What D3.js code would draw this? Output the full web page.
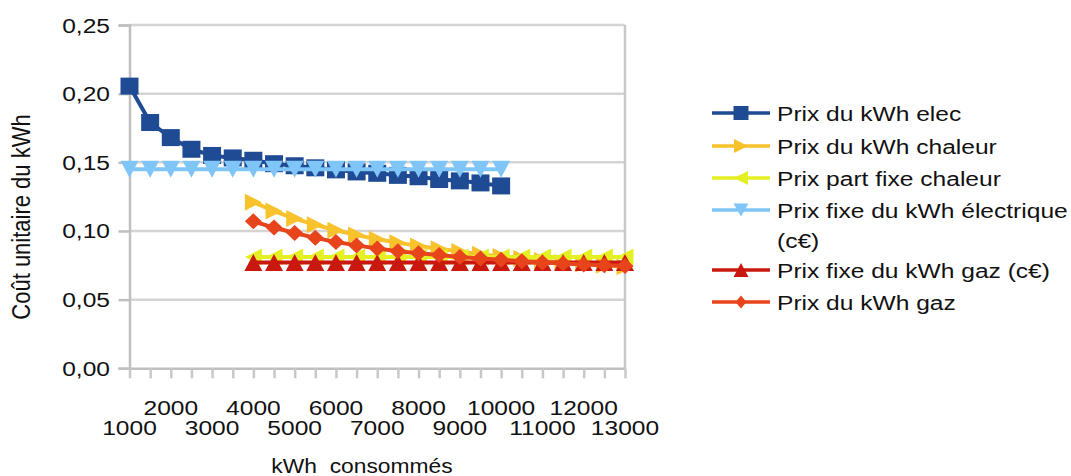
<!DOCTYPE html>
<html>
<head>
<meta charset="utf-8">
<script src="https://cdn.jsdelivr.net/npm/d3@7"></script>
<style>
  body { margin: 0; background: #fff; }
  svg { display: block; background: #fff; }
  text { font-family: "Liberation Sans", Arial, Helvetica, sans-serif; fill: #111; }
</style>
</head>
<body>
<svg id="chart" width="1071" height="476"></svg>
<script>
// kWh consumed (category axis, one point every 500 kWh)
const kwh = [1000, 1500, 2000, 2500, 3000, 3500, 4000, 4500, 5000, 5500, 6000, 6500,
             7000, 7500, 8000, 8500, 9000, 9500, 10000, 10500, 11000, 11500, 12000, 12500, 13000];
const kwhElec = kwh.slice(0, 19);   // 1000 .. 10000
const kwhHeat = kwh.slice(6);       // 4000 .. 13000

// Unit cost (€/kWh)
const prixElec = [0.2055, 0.179, 0.168, 0.1595, 0.155, 0.1532, 0.1515, 0.149, 0.1475, 0.146,
                  0.1445, 0.143, 0.142, 0.1405, 0.1395, 0.1375, 0.1365, 0.135, 0.1328];
const prixFixeElec = [0.145, 0.145, 0.145, 0.145, 0.145, 0.145, 0.145, 0.145, 0.145, 0.145,
                      0.145, 0.145, 0.145, 0.145, 0.145, 0.145, 0.145, 0.145, 0.145];
const prixChaleur = [0.121, 0.1145, 0.109, 0.1045, 0.1005, 0.097, 0.094, 0.0915, 0.089, 0.087,
                     0.085, 0.083, 0.0815, 0.080, 0.0785, 0.077, 0.076, 0.075, 0.074];
const prixPartFixeChaleur = [0.081, 0.081, 0.081, 0.081, 0.081, 0.081, 0.081, 0.081, 0.081, 0.081,
                             0.081, 0.081, 0.081, 0.081, 0.081, 0.081, 0.081, 0.081, 0.081];
const prixFixeGaz = [0.077, 0.077, 0.077, 0.077, 0.077, 0.077, 0.077, 0.077, 0.077, 0.077,
                     0.077, 0.077, 0.077, 0.077, 0.077, 0.077, 0.077, 0.077, 0.077];
const prixGaz = [0.107, 0.1025, 0.0985, 0.095, 0.092, 0.0895, 0.0872, 0.0853, 0.0838, 0.0825,
                 0.081, 0.080, 0.079, 0.078, 0.077, 0.0763, 0.0756, 0.075, 0.0745];

// Axis labels
const yTicks = [0, 0.05, 0.10, 0.15, 0.20, 0.25];
const yTickLabels = ["0,00", "0,05", "0,10", "0,15", "0,20", "0,25"];
const xLabelsUpper = [2000, 4000, 6000, 8000, 10000, 12000];
const xLabelsLower = [1000, 3000, 5000, 7000, 9000, 11000, 13000];

const seriesNames = [
  "Prix du kWh elec",
  "Prix du kWh chaleur",
  "Prix part fixe chaleur",
  "Prix fixe du kWh électrique (c€)",
  "Prix fixe du kWh gaz (c€)",
  "Prix du kWh gaz"
];

const series = [
  { name: seriesNames[0], xs: kwhElec, ys: prixElec, color: "#1f4b94", shape: "square" },
  { name: seriesNames[1], xs: kwhHeat, ys: prixChaleur, color: "#f7c22c", shape: "right" },
  { name: seriesNames[2], xs: kwhHeat, ys: prixPartFixeChaleur, color: "#e4ef24", shape: "left" },
  { name: seriesNames[3], xs: kwhElec, ys: prixFixeElec, color: "#7fc5f8", shape: "down" },
  { name: seriesNames[4], xs: kwhHeat, ys: prixFixeGaz, color: "#c9190f", shape: "up" },
  { name: seriesNames[5], xs: kwhHeat, ys: prixGaz, color: "#e7441c", shape: "diamond" }
];

const svg = d3.select("#chart");
const SX = 1.17; // horizontal stretch of the lettering

const x = d3.scaleLinear().domain([1000, 13000]).range([129.5, 625]);
const y = d3.scaleLinear().domain([0, 0.25]).range([368.3, 25]);

function shapePath(shape, w, h) {
  const a = w / 2, b = h / 2;
  switch (shape) {
    case "square":  return `M${-a},${-b}H${a}V${b}H${-a}Z`;
    case "right":   return `M${-a},${-b}L${a},0L${-a},${b}Z`;
    case "left":    return `M${a},${-b}L${-a},0L${a},${b}Z`;
    case "down":    return `M${-a},${-b}L${a},${-b}L0,${b}Z`;
    case "up":      return `M${-a},${b}L${a},${b}L0,${-b}Z`;
    case "diamond": return `M0,${-b}L${a},0L0,${b}L${-a},0Z`;
  }
}
const markerSize = { square: [18, 17], right: [17, 17], left: [17, 17], down: [18, 17], up: [18, 17], diamond: [17, 16] };
const legendSize = { square: [15, 14], right: [14, 14], left: [14, 14], down: [15, 13], up: [15, 14], diamond: [11, 13] };

function label(g, tx, ty, str, size, anchor) {
  return g.append("text")
    .attr("transform", `translate(${tx},${ty}) scale(${SX},1)`)
    .attr("text-anchor", anchor || "start")
    .style("font-size", size + "px")
    .text(str);
}

// Gridlines
const grid = svg.append("g");
grid.selectAll("line").data(yTicks.slice(1)).join("line")
  .attr("x1", x(1000)).attr("x2", x(13000))
  .attr("y1", d => y(d)).attr("y2", d => y(d))
  .attr("stroke", "#d6d4d2").attr("stroke-width", 2.5);

// Right border of the plot
svg.append("line")
  .attr("x1", x(13000)).attr("x2", x(13000)).attr("y1", y(0.25)).attr("y2", y(0))
  .attr("stroke", "#c8c8c8").attr("stroke-width", 2.5);

// Y axis
const yAxis = d3.axisLeft(y).tickValues(yTicks).tickSize(11).tickFormat("");
const gy = svg.append("g").attr("transform", `translate(${x(1000)},0)`).call(yAxis);
gy.selectAll("path.domain").attr("stroke", "#c0c0c0").attr("stroke-width", 2.5);
gy.selectAll(".tick line").attr("stroke", "#c0c0c0").attr("stroke-width", 2.5);
yTicks.forEach((v, i) => label(svg, 110, y(v) + 7.5, yTickLabels[i], 21, "end"));

// X axis
const xAxis = d3.axisBottom(x).tickValues(kwh).tickSize(10).tickFormat("").tickSizeOuter(0);
const gx = svg.append("g").attr("transform", `translate(0,${y(0)})`).call(xAxis);
gx.selectAll("path.domain").attr("stroke", "#c0c0c0").attr("stroke-width", 2.5);
gx.selectAll(".tick line").attr("stroke", "#c8c8c8").attr("stroke-width", 2.5);
xLabelsUpper.forEach(v => label(svg, x(v), 415, String(v), 21, "middle"));
xLabelsLower.forEach(v => label(svg, x(v), 435, String(v), 21, "middle"));

// Axis titles
svg.append("text")
  .attr("transform", `translate(30,217) scale(${SX},1) rotate(-90)`)
  .attr("text-anchor", "middle")
  .style("font-size", "22px")
  .text("Coût unitaire du kWh");
label(svg, 362, 473, "kWh  consommés", 19.5, "middle").style("white-space", "pre");

// Series: line first, then its markers
const lineGen = d3.line().x(d => x(d[0])).y(d => y(d[1]));
series.forEach(s => {
  const pts = s.xs.map((k, i) => [k, s.ys[i]]);
  const g = svg.append("g");
  g.append("path").datum(pts)
    .attr("d", lineGen).attr("fill", "none")
    .attr("stroke", s.color).attr("stroke-width", 4).attr("stroke-linejoin", "round");
  const [w, h] = markerSize[s.shape];
  g.selectAll("path.m").data(pts).join("path").attr("class", "m")
    .attr("transform", d => `translate(${x(d[0])},${y(d[1])})`)
    .attr("d", shapePath(s.shape, w, h))
    .attr("fill", s.color);
});

// Legend
const legendRows = [113, 146, 178, 210, 270, 302];
const leg = svg.append("g");
series.forEach((s, i) => {
  const cy = legendRows[i];
  leg.append("line").attr("x1", 712).attr("x2", 770).attr("y1", cy).attr("y2", cy)
    .attr("stroke", s.color).attr("stroke-width", 3.5);
  const [w, h] = legendSize[s.shape];
  leg.append("path").attr("transform", `translate(741,${cy})`)
    .attr("d", shapePath(s.shape, w, h)).attr("fill", s.color);
});
label(leg, 777, 113 + 7.5, seriesNames[0], 21);
label(leg, 777, 146 + 7.5, seriesNames[1], 21);
label(leg, 777, 178 + 7.5, seriesNames[2], 21);
label(leg, 777, 210 + 7.5, "Prix fixe du kWh électrique", 21);
label(leg, 777, 240 + 7.5, "(c€)", 21);
label(leg, 777, 270 + 7.5, seriesNames[4], 21);
label(leg, 777, 302 + 7.5, seriesNames[5], 21);
</script>
</body>
</html>
